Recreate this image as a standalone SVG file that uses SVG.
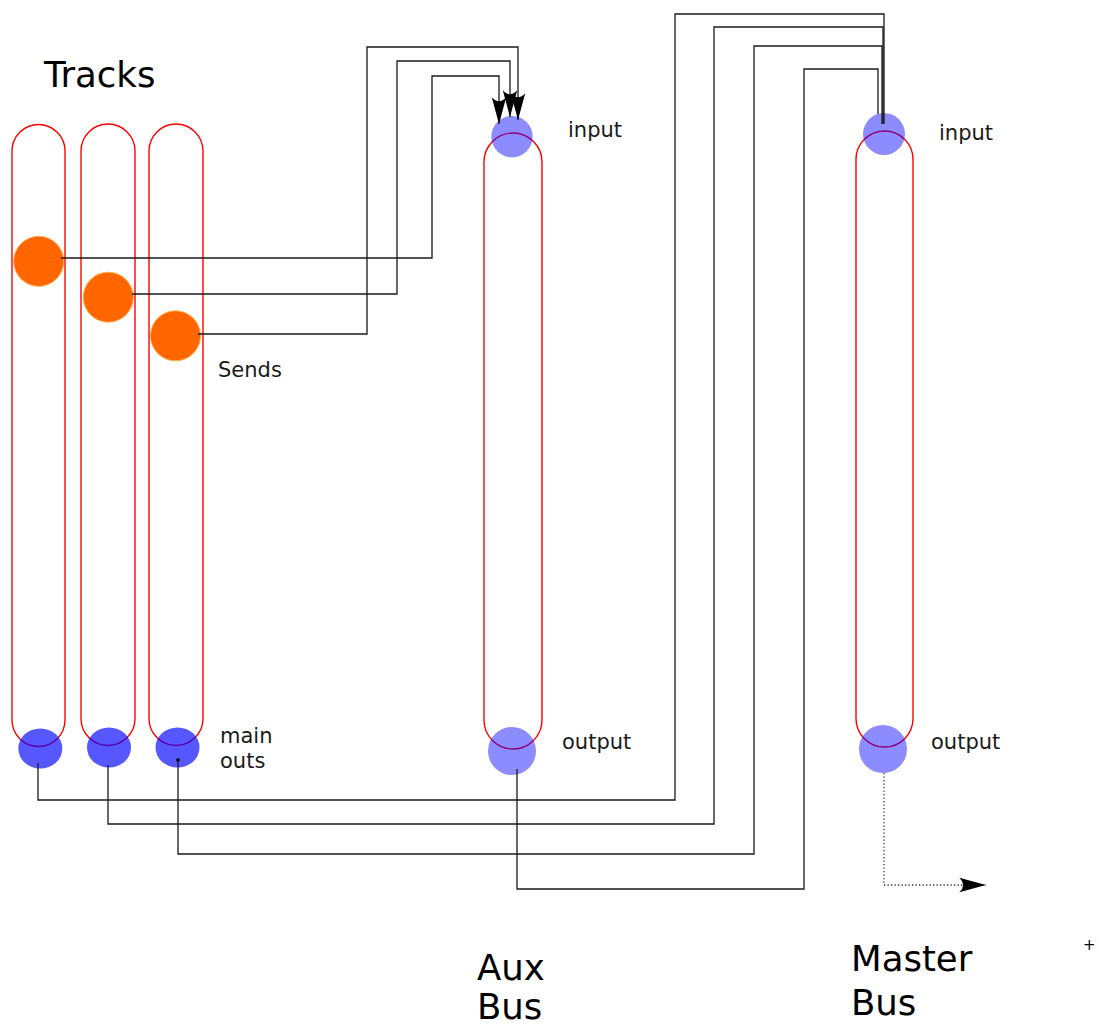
<svg xmlns="http://www.w3.org/2000/svg" width="1099" height="1026" viewBox="0 0 1099 1026">
<defs>
<style>
.cap{fill:none;stroke:#ff0000;stroke-width:1.4}
.out{fill:#0000ff;fill-opacity:0.66}
.io{fill:#0000ff;fill-opacity:0.45}
.send{fill:#ff6600;stroke:#ffb04a;stroke-width:1}
.wire{fill:none;stroke:#1a1a1a;stroke-width:1.3}
.dot{fill:none;stroke:#333;stroke-width:1.3;stroke-dasharray:1.3 2.2}
.lbl{font-family:"DejaVu Sans",sans-serif;font-size:21px;fill:#1a1a1a}
.big{font-family:"DejaVu Sans",sans-serif;font-size:35.5px;fill:#000}
</style>
<marker id="arr" markerUnits="userSpaceOnUse" markerWidth="30" markerHeight="20" viewBox="-25 -8 27 16" refX="0" refY="0" orient="auto" overflow="visible">
<path d="M0,0 L-24,-6.5 Q-17,0 -24,6.5 Z" fill="#000"/>
</marker>
</defs>
<rect width="1099" height="1026" fill="#fff"/>

<g id="track1">
<rect class="cap" x="12" y="124.5" width="53" height="622" rx="26.5"/>
<circle class="send" cx="38.7" cy="261.3" r="25"/>
<ellipse class="out" cx="40.3" cy="748.5" rx="22" ry="20"/>
</g>
<g id="track2">
<rect class="cap" x="81" y="124" width="54" height="621.5" rx="27"/>
<circle class="send" cx="108.3" cy="297.2" r="25"/>
<ellipse class="out" cx="109" cy="747.5" rx="22" ry="20"/>
</g>
<g id="track3">
<rect class="cap" x="149" y="124" width="54" height="621.5" rx="27"/>
<circle class="send" cx="175.5" cy="335.8" r="25"/>
<ellipse class="out" cx="177.5" cy="747.5" rx="22" ry="20"/>
</g>
<g id="auxbus">
<rect class="cap" x="484" y="133" width="58" height="616" rx="29"/>
<circle class="io" cx="512" cy="136.7" r="20.7"/>
<circle class="io" cx="512" cy="751" r="24"/>
</g>
<g id="masterbus">
<rect class="cap" x="856" y="131" width="57" height="616" rx="28.5"/>
<circle class="io" cx="884" cy="134" r="21"/>
<circle class="io" cx="883" cy="749" r="24"/>
</g>

<g id="connectors">
<path class="wire" d="M61,258 H432 V76 H499 V124" marker-end="url(#arr)"/>
<path class="wire" d="M132,294 H397 V61 H510 V117" marker-end="url(#arr)"/>
<path class="wire" d="M198,334 H367 V47 H518 V120" marker-end="url(#arr)"/>
<path class="wire" d="M38,763 V800 H675 V14 H884 V124"/>
<path class="wire" d="M108,765 V824 H714 V27 H883 V124"/>
<path class="wire" d="M178,760 V854 H754 V46 H882 V124"/>
<circle cx="178" cy="760" r="1.8" fill="#000"/>
<path class="wire" d="M517,769 V889 H804 V69 H878 V114"/>
<path class="dot" d="M884,773 V885 H986" marker-end="url(#arr)"/>
</g>

<g id="labels">
<text class="big" x="44" y="87">Tracks</text>
<text class="lbl" x="568" y="137">input</text>
<text class="lbl" x="939" y="140">input</text>
<text class="lbl" x="218" y="377">Sends</text>
<text class="lbl" x="220" y="743">main</text>
<text class="lbl" x="220" y="768">outs</text>
<text class="lbl" x="562" y="749">output</text>
<text class="lbl" x="931" y="749">output</text>
<text class="big" x="477" y="980">Aux</text>
<text class="big" x="477" y="1019">Bus</text>
<text class="big" x="851" y="971">Master</text>
<text class="big" x="851" y="1015">Bus</text>
<text x="1083" y="950" style="font-family:'DejaVu Sans',sans-serif;font-size:15px;fill:#000">+</text>
</g>
</svg>
